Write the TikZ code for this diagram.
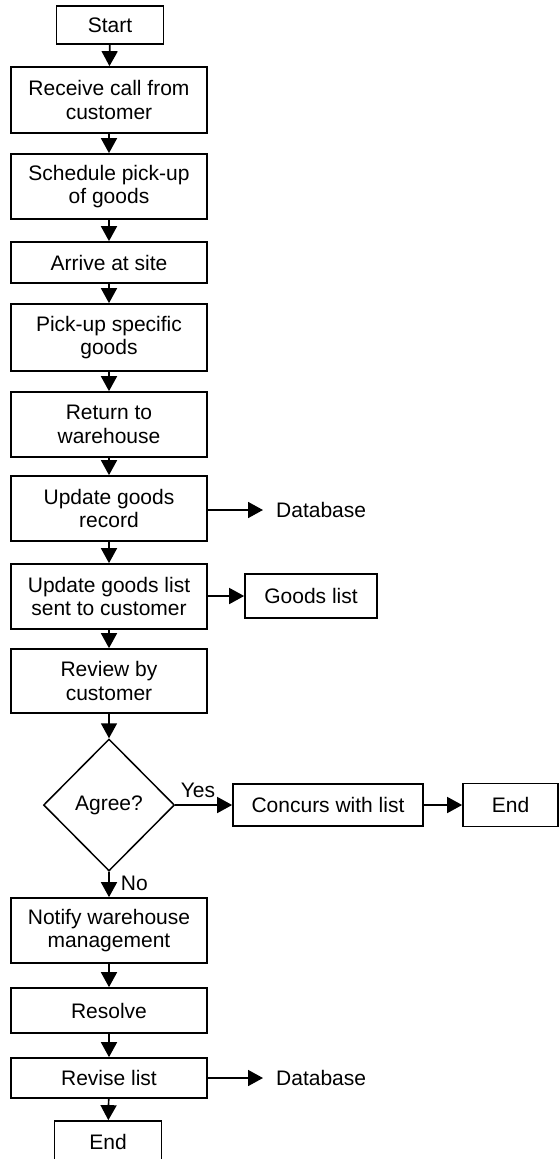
\documentclass[tikz,border=0pt]{standalone}
\usepackage{fontspec}
\setmainfont{Liberation Sans}
\usetikzlibrary{arrows.meta, shapes.geometric, positioning}

\tikzset{
  procbox/.style={draw=black, line width=1.7pt, align=center, inner sep=0pt,
    minimum width=196pt, font=\fontsize{21}{23.5}\selectfont},
  endbox/.style={procbox, minimum width=107pt},
  decisionbox/.style={draw=black, line width=1.5pt, diamond, aspect=1, inner sep=0pt,
    minimum width=131pt, minimum height=132pt, font=\fontsize{21}{23.5}\selectfont},
  plaintext/.style={inner sep=0pt, font=\fontsize{21}{23.5}\selectfont},
  flow/.style={line width=1.7pt, -{Triangle[length=15pt,width=16pt]}}
}

\begin{document}
\begin{tikzpicture}[x=1pt,y=-1pt]
\useasboundingbox (0,0) rectangle (559,1159);

\node [endbox, minimum height=38pt]  (start)   at (110,25)    {Start};
\node [procbox, minimum height=66pt] (receive) at (109,100)   {Receive call from\\customer};
\node [procbox, minimum height=65pt] (sched)   at (109,186.5) {Schedule pick-up\\of goods};
\node [procbox, minimum height=41pt] (arrive)  at (109,262.5) {Arrive at site};
\node [procbox, minimum height=67pt] (pickup)  at (109,337.5) {Pick-up specific\\goods};
\node [procbox, minimum height=65pt] (ret)     at (109,424.5) {Return to\\warehouse};
\node [procbox, minimum height=65pt] (record)  at (109,508.5) {Update goods\\record};
\node [procbox, minimum height=65pt] (glist)   at (109,596.5) {Update goods list\\sent to customer};
\node [procbox, minimum height=64pt] (review)  at (109,681)   {Review by\\customer};
\node [decisionbox]                  (agree)   at (109,805)   {Agree?};
\node [procbox, minimum height=65pt] (notify)  at (109,930.5) {Notify warehouse\\management};
\node [procbox, minimum height=45pt] (resolve) at (109,1010.5){Resolve};
\node [procbox, minimum height=40pt] (revise)  at (109,1078)  {Revise list};
\node [endbox, minimum height=42pt]  (fin)     at (108,1142)  {End};

\node [plaintext, anchor=west] (db1) at (276,510) {Database};
\node [procbox, minimum width=132pt, minimum height=44pt] (goods) at (311,596) {Goods list};
\node [procbox, minimum width=190pt, minimum height=42pt] (concur) at (328,805) {Concurs with list};
\node [endbox, minimum width=95pt, minimum height=43pt] (fin2) at (510.5,805) {End};
\node [plaintext, anchor=west] (db2) at (276,1078) {Database};

\coordinate (db1in) at (263,510);
\coordinate (db2in) at (263,1078);

\draw [flow] (start) -- (receive);
\draw [flow] (receive) -- (sched);
\draw [flow] (sched) -- (arrive);
\draw [flow] (arrive) -- (pickup);
\draw [flow] (pickup) -- (ret);
\draw [flow] (ret) -- (record);
\draw [flow] (record) -- (glist);
\draw [flow] (glist) -- (review);
\draw [flow] (review) -- (agree);
\draw [flow] (agree) -- node [plaintext, right=11pt, pos=0.45] (nolabel) {No} (notify);
\draw [flow] (notify) -- (resolve);
\draw [flow] (resolve) -- (revise);
\draw [flow] (revise) -- (fin);

\draw [flow] (record.east |- db1in) -- (db1in);
\draw [flow] (glist.east |- goods.west) -- (goods.west);
\draw [flow] (agree.east) -- node [plaintext, above=6pt, pos=0.4] (yeslabel) {Yes} (concur.west);
\draw [flow] (concur) -- (fin2);
\draw [flow] (revise.east |- db2in) -- (db2in);
\end{tikzpicture}
\end{document}
